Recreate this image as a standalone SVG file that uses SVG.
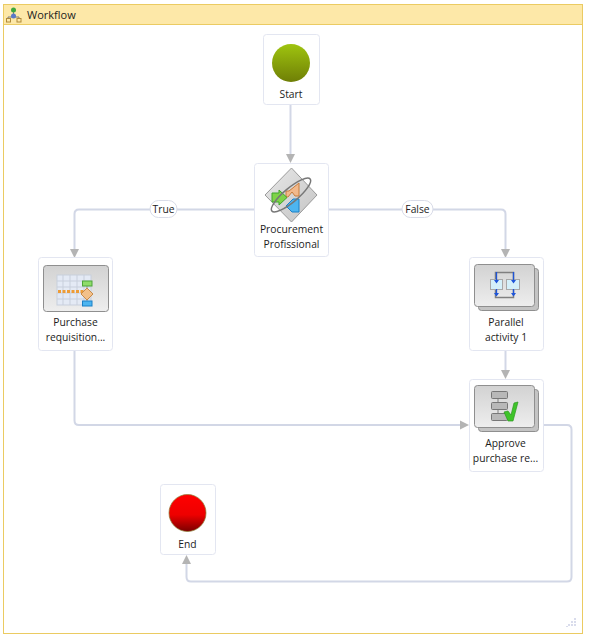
<svg xmlns="http://www.w3.org/2000/svg" width="591" height="643" viewBox="0 0 591 643">
<style>
text{font-family:"Open Sans","Noto Sans","Liberation Sans",sans-serif;font-size:10.3px;fill:#1c1c1c;text-anchor:middle}
.card{fill:#fff;stroke:#e3e6f1;stroke-width:1}
.line{fill:none;stroke:#d2d7e6;stroke-width:2}
.pill{fill:#fff;stroke:#d9dce8;stroke-width:1}
.tile{fill:url(#tile);stroke:#8f8f8f;stroke-width:1}
.back{fill:#c4c4c4;stroke:#8f8f8f;stroke-width:1}
.ah{fill:#b4b4b4}
</style>
<defs>
<linearGradient id="green" x1="0" y1="0" x2="0" y2="1"><stop offset="0" stop-color="#9fc40f"/><stop offset="1" stop-color="#6f7f06"/></linearGradient>
<linearGradient id="red" x1="0" y1="0" x2="0" y2="1"><stop offset="0" stop-color="#ff0000"/><stop offset="0.55" stop-color="#ee0000"/><stop offset="1" stop-color="#7a0000"/></linearGradient>
<linearGradient id="tile" x1="0" y1="0" x2="0" y2="1"><stop offset="0" stop-color="#d2d2d2"/><stop offset="1" stop-color="#eeeeee"/></linearGradient>
<linearGradient id="diamond" x1="0" y1="0" x2="1" y2="1"><stop offset="0" stop-color="#e8e8e8"/><stop offset="1" stop-color="#c4c4c4"/></linearGradient>
<marker id="arrow" markerUnits="userSpaceOnUse" markerWidth="10" markerHeight="10" refX="4" refY="5" orient="auto"><path class="ah" d="M0,0.500L9,5L0,9.500Z"/></marker>
</defs>
<g id="workflow-frame">
<rect x="3.500" y="4.500" width="579" height="629" fill="#fff" stroke="#ebcb62"/>
<rect x="4" y="5" width="578" height="19" fill="#fde8a8"/>
<line x1="3" y1="24.500" x2="583" y2="24.500" stroke="#ebcb62"/>
<g id="workflow-icon">
<path d="M8,20V17H19V20M13.500,10V17" fill="none" stroke="#7c7c7c" stroke-width="1"/>
<rect x="6.500" y="18.500" width="4" height="3.500" fill="#fde8a8" stroke="#b08a3a"/>
<rect x="17" y="18.500" width="4" height="3.500" fill="#fde8a8" stroke="#b08a3a"/>
<circle cx="13.500" cy="10" r="2.500" fill="#3da83d"/>
<circle cx="13.500" cy="16" r="2.500" fill="#5a79c8"/>
</g>
<text x="27" y="18.500" style="text-anchor:start;font-size:11px">Workflow</text>
<g id="resize-grip" fill="#d9dcec">
<rect x="574" y="618" width="2" height="2"/><rect x="571" y="621" width="2" height="2"/><rect x="574" y="621" width="2" height="2"/><rect x="568" y="624" width="2" height="2"/><rect x="571" y="624" width="2" height="2"/><rect x="574" y="624" width="2" height="2"/><rect x="566" y="626" width="2" height="1"/>
</g>
</g>
<g id="connectors">
<path class="line" d="M290.500,105V158" marker-end="url(#arrow)"/>
<path class="line" d="M254,209.500H79Q74.500,209.500 74.500,214V253" marker-end="url(#arrow)"/>
<path class="line" d="M329,209.500H501Q505.500,209.500 505.500,214V253" marker-end="url(#arrow)"/>
<path class="line" d="M505.500,351V374" marker-end="url(#arrow)"/>
<path class="line" d="M74.500,351V420.500Q74.500,425 79,425H464" marker-end="url(#arrow)"/>
<path class="line" d="M544,425H567Q571.500,425 571.500,429.500V577Q571.500,581.500 567,581.500H191Q186.500,581.500 186.500,577V560" marker-end="url(#arrow)"/>
<g id="label-true"><rect class="pill" x="150" y="200.500" width="27" height="17" rx="8.500"/><text x="163.500" y="213">True</text></g>
<g id="label-false"><rect class="pill" x="402" y="200.500" width="31" height="17" rx="8.500"/><text x="417.500" y="213">False</text></g>
</g>
<g id="node-start">
<rect class="card" x="263.500" y="34.500" width="56" height="70" rx="3"/>
<circle cx="291" cy="63" r="19" fill="url(#green)"/>
<text x="291" y="98">Start</text>
</g>
<g id="node-procurement">
<rect class="card" x="254.500" y="163.500" width="74" height="93" rx="3"/>
<path d="M291.500,168L317,195L291.500,222L265,195Z" fill="url(#diamond)" stroke="#9a9a9a"/>
<path d="M286,197V191H289L299,183V196H295L292,192L288,197Z" fill="#f2b98c" stroke="#c87c3c"/>
<path d="M272,193H279V190L287,197.500L279,205V202H272Z" fill="#7fd348" stroke="#3fa52a"/>
<path d="M286,206L293,199L299,199V212H292Z" fill="#4db5f0" stroke="#1a80c8"/>
<ellipse cx="291" cy="195" rx="25" ry="7" transform="rotate(-40 291 195)" fill="none" stroke="#777" stroke-width="1.500"/>
<text x="291.500" y="233">Procurement</text>
<text x="291.500" y="248">Profissional</text>
</g>
<g id="node-purchase">
<rect class="card" x="38.500" y="257.500" width="74" height="93" rx="3"/>
<rect class="tile" x="43.500" y="265.500" width="65" height="46" rx="3"/>
<rect x="57" y="275" width="34" height="30" fill="#e4eaf5" stroke="#c8cfdc"/>
<path d="M63,275V305M70,275V305M77,275V305M84,275V305M57,281H91M57,287H91M57,293H91M57,299H91" stroke="#c8cfdc" fill="none" stroke-width="1"/>
<path d="M58,291.500H84" stroke="#ee9c36" stroke-width="3" stroke-dasharray="3 1.500" fill="none"/>
<path d="M87,286V301" stroke="#999"/>
<rect x="82.500" y="281" width="9.500" height="5" fill="#8fdc6a" stroke="#4da53a"/>
<path d="M87,288L93,294L87,300L81,294Z" fill="#f2c08a" stroke="#c88a4a"/>
<rect x="82.500" y="301" width="9.500" height="5" fill="#4db5f0" stroke="#1a80c8"/>
<text x="75.500" y="326">Purchase</text>
<text x="75.500" y="341">requisition...</text>
</g>
<g id="node-parallel">
<rect class="card" x="469.500" y="257.500" width="74" height="93" rx="3"/>
<rect class="back" x="478.500" y="268.500" width="60" height="42" rx="3"/>
<rect class="tile" x="474.500" y="264.500" width="60" height="42" rx="3"/>
<path d="M495.500,279V272.500H513.500V279M495.500,290V297.500H513.500V290" fill="none" stroke="#808080" stroke-width="1.500"/>
<rect x="490.500" y="279.500" width="12" height="10" fill="#d4f0fa" stroke="#a8a8a8"/>
<rect x="506.500" y="279.500" width="13" height="10" fill="#d4f0fa" stroke="#a8a8a8"/>
<path d="M496.500,272V282M513.500,272V282M496.500,289V295M513.500,289V295" stroke="#1f55d8" stroke-width="1.300" fill="none"/>
<path d="M494,280H499L496.500,283.500ZM511,280H516L513.500,283.500ZM494,293H499L496.500,296.500ZM511,293H516L513.500,296.500Z" fill="#1f55d8"/>
<text x="506" y="326">Parallel</text>
<text x="506" y="341">activity 1</text>
</g>
<g id="node-approve">
<rect class="card" x="469.500" y="379.500" width="74" height="92" rx="3"/>
<rect class="back" x="478.500" y="389.500" width="60" height="42" rx="3"/>
<rect class="tile" x="474.500" y="385.500" width="60" height="42" rx="3"/>
<path d="M498,398V414" stroke="#808080"/>
<rect x="491.500" y="391.500" width="16" height="7" rx="1" fill="#b8b8b8" stroke="#777"/>
<rect x="491.500" y="402.500" width="16" height="7" rx="1" fill="#b8b8b8" stroke="#777"/>
<rect x="491.500" y="413.500" width="16" height="7" rx="1" fill="#b8b8b8" stroke="#777"/>
<path d="M504,412L508,411L511,415L514,403L518,402L513,421H508Z" fill="#3fc42a" stroke="#2c9a1f" stroke-width="0.700"/>
<text x="505.500" y="447">Approve</text>
<text x="505.500" y="462">purchase re...</text>
</g>
<g id="node-end">
<rect class="card" x="160.500" y="484.500" width="55" height="70" rx="3"/>
<circle cx="187.500" cy="513" r="18.500" fill="url(#red)" stroke="#8a7a30" stroke-width="0.700"/>
<text x="187.500" y="548">End</text>
</g>
</svg>
